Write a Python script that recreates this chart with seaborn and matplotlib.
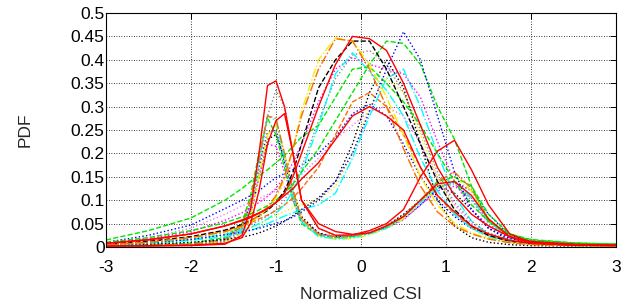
import matplotlib
matplotlib.use("Agg")
import numpy as np
import pandas as pd
import matplotlib.pyplot as plt
import seaborn as sns

# ---------------- data ----------------
csi_grid = [-3, -2.5, -2, -1.6, -1.4, -1.3, -1.2, -1.1, -1.0, -0.9, -0.8, -0.7, -0.5,
            -0.3, -0.1, 0.1, 0.3, 0.5, 0.7, 0.9, 1.1, 1.3, 1.5, 1.75, 2, 2.5, 3]

# unimodal PDFs
pdf_u01 = [0.008, 0.015, 0.028, 0.045, 0.058, 0.065, 0.073, 0.082, 0.095, 0.115, 0.15, 0.2, 0.3,
           0.39, 0.45, 0.445, 0.42, 0.35, 0.26, 0.17, 0.11, 0.07, 0.045, 0.022, 0.012, 0.006, 0.004]
pdf_u02 = [0.005, 0.01, 0.02, 0.033, 0.045, 0.055, 0.068, 0.085, 0.11, 0.15, 0.21, 0.28, 0.38,
           0.445, 0.44, 0.38, 0.3, 0.21, 0.13, 0.075, 0.045, 0.028, 0.017, 0.009, 0.005, 0.003, 0.002]
pdf_u03 = [0.005, 0.01, 0.02, 0.032, 0.044, 0.053, 0.065, 0.082, 0.105, 0.145, 0.21, 0.29, 0.4,
           0.447, 0.44, 0.39, 0.32, 0.24, 0.15, 0.09, 0.05, 0.03, 0.018, 0.01, 0.006, 0.003, 0.002]
pdf_u04 = [0.006, 0.012, 0.022, 0.036, 0.048, 0.056, 0.066, 0.078, 0.095, 0.12, 0.16, 0.22, 0.34,
           0.4, 0.44, 0.44, 0.38, 0.3, 0.22, 0.14, 0.08, 0.045, 0.025, 0.012, 0.007, 0.004, 0.003]
pdf_u05 = [0.005, 0.009, 0.016, 0.026, 0.032, 0.036, 0.04, 0.045, 0.05, 0.056, 0.064, 0.075, 0.1,
           0.14, 0.2, 0.29, 0.38, 0.46, 0.4, 0.28, 0.16, 0.08, 0.04, 0.018, 0.01, 0.005, 0.003]
pdf_u06 = [0.01, 0.02, 0.035, 0.052, 0.064, 0.071, 0.079, 0.088, 0.1, 0.115, 0.135, 0.16, 0.21,
           0.27, 0.33, 0.39, 0.44, 0.435, 0.39, 0.3, 0.23, 0.13, 0.055, 0.025, 0.015, 0.008, 0.006]
pdf_u07 = [0.004, 0.008, 0.016, 0.027, 0.036, 0.042, 0.05, 0.06, 0.072, 0.09, 0.12, 0.16, 0.26,
           0.37, 0.415, 0.375, 0.335, 0.28, 0.19, 0.12, 0.07, 0.04, 0.022, 0.011, 0.006, 0.003, 0.002]
pdf_u08 = [0.008, 0.017, 0.033, 0.057, 0.073, 0.083, 0.095, 0.108, 0.125, 0.15, 0.18, 0.22, 0.31,
           0.38, 0.405, 0.39, 0.38, 0.37, 0.32, 0.225, 0.14, 0.08, 0.045, 0.02, 0.011, 0.006, 0.004]
pdf_u09 = [0.015, 0.035, 0.062, 0.1, 0.125, 0.14, 0.152, 0.165, 0.18, 0.196, 0.215, 0.235, 0.26,
           0.32, 0.38, 0.385, 0.35, 0.31, 0.26, 0.2, 0.14, 0.09, 0.055, 0.028, 0.016, 0.009, 0.006]
pdf_u10 = [0.008, 0.02, 0.04, 0.07, 0.088, 0.095, 0.103, 0.112, 0.12, 0.128, 0.14, 0.155, 0.19,
           0.23, 0.26, 0.29, 0.3, 0.28, 0.22, 0.15, 0.09, 0.05, 0.03, 0.015, 0.009, 0.005, 0.004]
pdf_u11 = [0.008, 0.016, 0.028, 0.045, 0.056, 0.063, 0.072, 0.082, 0.095, 0.11, 0.125, 0.145, 0.18,
           0.23, 0.28, 0.3, 0.28, 0.25, 0.17, 0.11, 0.075, 0.045, 0.028, 0.014, 0.008, 0.004, 0.003]
pdf_u12 = [0.01, 0.025, 0.047, 0.082, 0.1, 0.11, 0.12, 0.135, 0.148, 0.157, 0.165, 0.175, 0.2,
           0.235, 0.285, 0.305, 0.28, 0.22, 0.15, 0.1, 0.065, 0.04, 0.025, 0.013, 0.008, 0.005, 0.004]
pdf_u13 = [0.005, 0.01, 0.019, 0.031, 0.041, 0.048, 0.056, 0.066, 0.08, 0.1, 0.13, 0.17, 0.27,
           0.36, 0.41, 0.42, 0.39, 0.33, 0.25, 0.16, 0.095, 0.055, 0.03, 0.015, 0.008, 0.004, 0.003]
pdf_u14 = [0.006, 0.012, 0.022, 0.035, 0.045, 0.052, 0.06, 0.068, 0.078, 0.09, 0.105, 0.125, 0.17,
           0.24, 0.31, 0.33, 0.3, 0.24, 0.17, 0.11, 0.07, 0.042, 0.025, 0.012, 0.007, 0.004, 0.003]
pdf_u15 = [0.003, 0.006, 0.01, 0.016, 0.021, 0.025, 0.03, 0.037, 0.045, 0.055, 0.067, 0.08, 0.105,
           0.14, 0.22, 0.33, 0.4, 0.34, 0.22, 0.1, 0.045, 0.02, 0.01, 0.005, 0.003, 0.002, 0.002]
pdf_u16 = [0.004, 0.008, 0.015, 0.025, 0.033, 0.04, 0.048, 0.058, 0.068, 0.076, 0.084, 0.09, 0.1,
           0.13, 0.2, 0.3, 0.36, 0.33, 0.24, 0.15, 0.08, 0.04, 0.02, 0.01, 0.006, 0.003, 0.002]
pdf_u17 = [0.004, 0.008, 0.014, 0.022, 0.03, 0.035, 0.042, 0.05, 0.058, 0.066, 0.073, 0.08, 0.09,
           0.115, 0.19, 0.28, 0.36, 0.38, 0.3, 0.2, 0.11, 0.055, 0.028, 0.012, 0.007, 0.004, 0.003]

# bimodal PDFs
pdf_b01 = [0.002, 0.002, 0.003, 0.006, 0.025, 0.08, 0.2, 0.345, 0.355, 0.3, 0.2, 0.1, 0.04,
           0.025, 0.026, 0.035, 0.05, 0.08, 0.15, 0.205, 0.228, 0.165, 0.09, 0.028, 0.01, 0.005, 0.004]
pdf_b02 = [0.002, 0.003, 0.004, 0.008, 0.02, 0.05, 0.12, 0.22, 0.27, 0.285, 0.2, 0.1, 0.05,
           0.033, 0.027, 0.03, 0.045, 0.065, 0.1, 0.135, 0.14, 0.11, 0.06, 0.022, 0.008, 0.004, 0.003]
pdf_b03 = [0.002, 0.003, 0.005, 0.012, 0.035, 0.08, 0.17, 0.28, 0.335, 0.3, 0.2, 0.1, 0.04,
           0.025, 0.025, 0.032, 0.045, 0.07, 0.1, 0.13, 0.135, 0.1, 0.05, 0.018, 0.008, 0.004, 0.003]
pdf_b04 = [0.003, 0.004, 0.006, 0.015, 0.04, 0.09, 0.18, 0.28, 0.27, 0.19, 0.11, 0.055, 0.022,
           0.018, 0.02, 0.028, 0.04, 0.065, 0.095, 0.125, 0.14, 0.105, 0.055, 0.02, 0.01, 0.005, 0.004]
pdf_b05 = [0.003, 0.004, 0.006, 0.016, 0.045, 0.1, 0.19, 0.28, 0.275, 0.2, 0.12, 0.06, 0.028,
           0.022, 0.024, 0.03, 0.045, 0.065, 0.1, 0.14, 0.16, 0.125, 0.06, 0.02, 0.009, 0.005, 0.004]
pdf_b06 = [0.004, 0.005, 0.008, 0.02, 0.05, 0.11, 0.2, 0.275, 0.24, 0.17, 0.1, 0.05, 0.025,
           0.02, 0.022, 0.03, 0.042, 0.065, 0.1, 0.14, 0.15, 0.13, 0.07, 0.028, 0.014, 0.008, 0.006]
pdf_b07 = [0.004, 0.005, 0.007, 0.018, 0.045, 0.09, 0.17, 0.245, 0.25, 0.18, 0.11, 0.06, 0.03,
           0.022, 0.024, 0.03, 0.042, 0.06, 0.09, 0.125, 0.14, 0.12, 0.07, 0.025, 0.012, 0.007, 0.005]
pdf_b08 = [0.003, 0.004, 0.006, 0.015, 0.04, 0.08, 0.15, 0.22, 0.215, 0.16, 0.1, 0.055, 0.028,
           0.022, 0.024, 0.03, 0.04, 0.058, 0.09, 0.12, 0.13, 0.105, 0.055, 0.02, 0.01, 0.006, 0.005]
pdf_b09 = [0.002, 0.003, 0.005, 0.012, 0.03, 0.07, 0.15, 0.24, 0.26, 0.2, 0.12, 0.06, 0.025,
           0.016, 0.018, 0.026, 0.04, 0.06, 0.095, 0.13, 0.15, 0.12, 0.06, 0.02, 0.009, 0.005, 0.004]
pdf_b10 = [0.002, 0.003, 0.005, 0.012, 0.03, 0.07, 0.15, 0.23, 0.24, 0.19, 0.12, 0.065, 0.03,
           0.02, 0.022, 0.03, 0.045, 0.07, 0.1, 0.13, 0.115, 0.08, 0.04, 0.014, 0.006, 0.003, 0.002]

x_ticks = [-3, -2, -1, 0, 1, 2, 3]
x_tick_labels = ["-3", "-2", "-1", "0", "1", "2", "3"]
y_ticks = [0, 0.05, 0.1, 0.15, 0.2, 0.25, 0.3, 0.35, 0.4, 0.45, 0.5]
y_tick_labels = ["0", "0.05", "0.1", "0.15", "0.2", "0.25", "0.3", "0.35", "0.4", "0.45", "0.5"]
x_label = "Normalized CSI"
y_label = "PDF"

# ---------------- styling (separate from data) ----------------
ORANGE = "#FF6A00"
GRAY = "#8C8C8C"
VIOLET = "#EE82EE"
YELLOW = "#F0F000"
GREEN = "#00E600"
curves = [
    (pdf_b10, "black", ":"), (pdf_b08, "magenta", ":"), (pdf_b07, "blue", ":"),
    (pdf_b09, YELLOW, "-."), (pdf_b06, GREEN, "--"), (pdf_b04, "cyan", "-."),
    (pdf_b05, ORANGE, "-."), (pdf_b03, GRAY, ":"),
    (pdf_u10, VIOLET, ":"), (pdf_u12, "blue", ":"), (pdf_u14, ORANGE, "--"),
    (pdf_u17, "cyan", "-."), (pdf_u16, YELLOW, ":"), (pdf_u15, "black", ":"),
    (pdf_u13, GRAY, ":"), (pdf_u08, "magenta", ":"), (pdf_u07, "cyan", "-."),
    (pdf_u09, GREEN, "--"), (pdf_u06, GREEN, "--"), (pdf_u05, "blue", ":"),
    (pdf_u04, "black", "--"), (pdf_u03, YELLOW, "-."), (pdf_u02, ORANGE, "-."),
    (pdf_u11, "red", "-"), (pdf_b02, "red", "-"), (pdf_b01, "red", "-"), (pdf_u01, "red", "-"),
]

sns.set_style("white")
plt.rcParams["font.family"] = ["Liberation Sans", "DejaVu Sans"]

fig = plt.figure(figsize=(6.34, 3.06), dpi=100)
ax = fig.add_axes([106 / 634, 59 / 306, 510 / 634, 234 / 306])

for vals, col, ls in curves:
    df = pd.DataFrame({"csi": csi_grid, "pdf": vals})
    sns.lineplot(data=df, x="csi", y="pdf", color=col, linestyle=ls,
                 linewidth=1.0, ax=ax, legend=False, sort=False)

ax.set_xlim(-3, 3)
ax.set_ylim(0, 0.5)
ax.set_xticks(x_ticks)
ax.set_xticklabels(x_tick_labels)
ax.set_yticks(y_ticks)
ax.set_yticklabels(y_tick_labels)
ax.grid(True, color="black", linestyle=(0, (1, 2)), linewidth=0.6)
ax.set_axisbelow(True)
ax.tick_params(direction="in", length=4, width=0.7, top=True, right=True,
               labelsize=12.5, colors="black")
ax.tick_params(axis="y", pad=1)
ax.tick_params(axis="x", pad=9)
for sp in ax.spines.values():
    sp.set_color("black")
    sp.set_linewidth(0.8)
ax.set_xlabel(x_label, fontsize=12.5, labelpad=9)
ax.set_ylabel(y_label, fontsize=12.5, labelpad=27)

fig.savefig("out.png", dpi=100, facecolor="white")
